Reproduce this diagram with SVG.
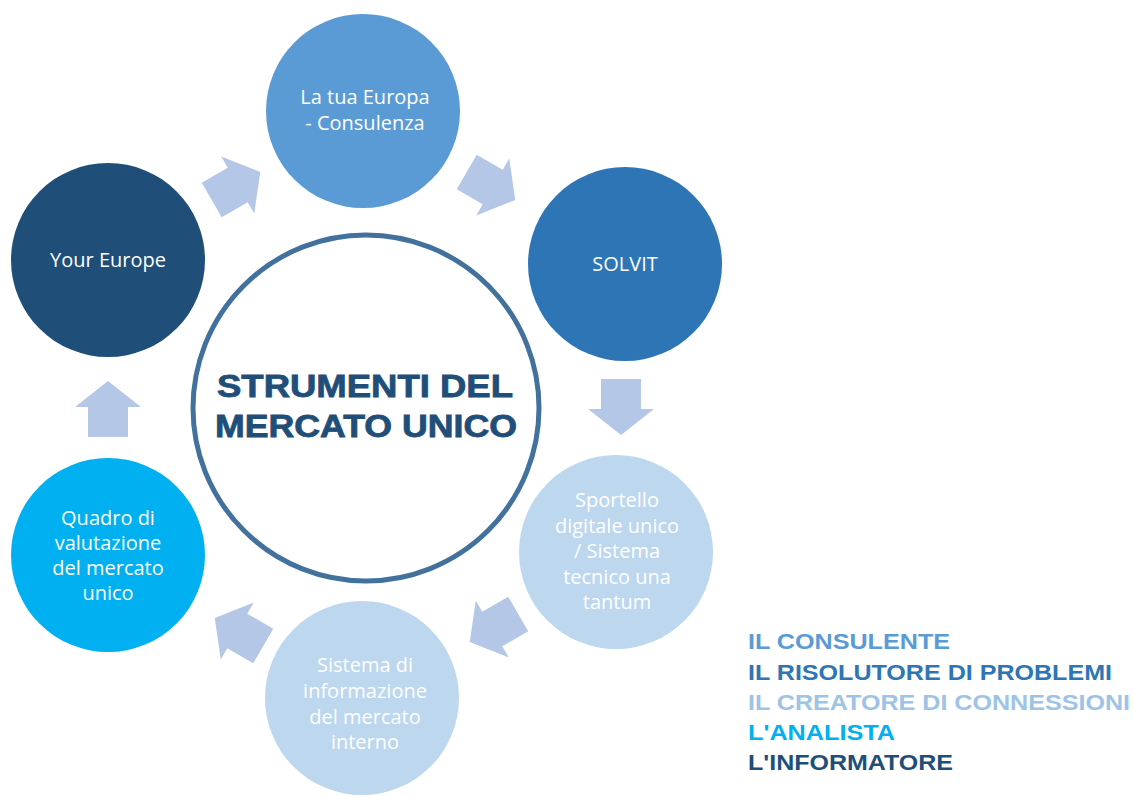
<svg xmlns="http://www.w3.org/2000/svg" width="1134" height="796" viewBox="0 0 1134 796">
<defs>
<style>
.node text{font-family:"Open Sans","Noto Sans",sans-serif;font-size:20px;fill:#ffffff;text-anchor:middle}
.arrow{fill:#b4c7e7}
.title{font-family:"Liberation Sans",Arial,sans-serif;font-weight:bold;font-size:31px;fill:#1f4e79;stroke:#1f4e79;stroke-width:0.8;text-anchor:middle}
.legend{font-family:"Liberation Sans",Arial,sans-serif;font-weight:bold;font-size:22px}
</style>
<path id="arr" d="M0,-28 L33,-2 L20,-2 L20,28 L-20,28 L-20,-2 L-33,-2 Z"/>
</defs>
<rect width="1134" height="796" fill="#ffffff"/>
<g id="connectors">
<use href="#arr" class="arrow" transform="translate(236,186) rotate(60)"/>
<use href="#arr" class="arrow" transform="translate(491,186) rotate(120)"/>
<use href="#arr" class="arrow" transform="translate(621,407) rotate(180)"/>
<use href="#arr" class="arrow" transform="translate(494,628) rotate(240)"/>
<use href="#arr" class="arrow" transform="translate(239,632) rotate(300)"/>
<use href="#arr" class="arrow" transform="translate(108,409)"/>
</g>
<g id="center">
<circle cx="366" cy="408" r="173" fill="#ffffff" stroke="#41719c" stroke-width="5"/>
<text class="title" x="365" y="397" textLength="296" lengthAdjust="spacingAndGlyphs">STRUMENTI DEL</text>
<text class="title" x="366" y="437" textLength="302" lengthAdjust="spacingAndGlyphs">MERCATO UNICO</text>
</g>
<g id="node-latuaeuropa" class="node">
<circle cx="363" cy="111" r="97" fill="#5b9bd5"/>
<text x="365" y="104">La tua Europa</text>
<text x="365" y="130">- Consulenza</text>
</g>
<g id="node-solvit" class="node">
<circle cx="625" cy="264" r="97" fill="#2e75b6"/>
<text x="625" y="271">SOLVIT</text>
</g>
<g id="node-sportello" class="node">
<circle cx="616" cy="552" r="97" fill="#bdd7ee"/>
<text x="617" y="507">Sportello</text>
<text x="617" y="533">digitale unico</text>
<text x="617" y="558">/ Sistema</text>
<text x="617" y="584">tecnico una</text>
<text x="617" y="609">tantum</text>
</g>
<g id="node-sistema" class="node">
<circle cx="362" cy="698" r="97" fill="#bdd7ee"/>
<text x="365" y="672">Sistema di</text>
<text x="365" y="698">informazione</text>
<text x="365" y="724">del mercato</text>
<text x="365" y="749">interno</text>
</g>
<g id="node-quadro" class="node">
<circle cx="108" cy="555" r="97" fill="#00b0f0"/>
<text x="108" y="525">Quadro di</text>
<text x="108" y="550">valutazione</text>
<text x="108" y="575">del mercato</text>
<text x="108" y="600">unico</text>
</g>
<g id="node-youreurope" class="node">
<circle cx="108" cy="260" r="97" fill="#1f4e79"/>
<text x="108" y="267">Your Europe</text>
</g>
<g id="legend">
<text class="legend" x="748" y="649" fill="#5b9bd5" textLength="202" lengthAdjust="spacingAndGlyphs">IL CONSULENTE</text>
<text class="legend" x="748" y="680" fill="#2e75b6" textLength="364" lengthAdjust="spacingAndGlyphs">IL RISOLUTORE DI PROBLEMI</text>
<text class="legend" x="748" y="710" fill="#9dc3e6" textLength="382" lengthAdjust="spacingAndGlyphs">IL CREATORE DI CONNESSIONI</text>
<text class="legend" x="748" y="740" fill="#00b0f0" textLength="147" lengthAdjust="spacingAndGlyphs">L'ANALISTA</text>
<text class="legend" x="748" y="770" fill="#1f4e79" textLength="205" lengthAdjust="spacingAndGlyphs">L'INFORMATORE</text>
</g>
</svg>
